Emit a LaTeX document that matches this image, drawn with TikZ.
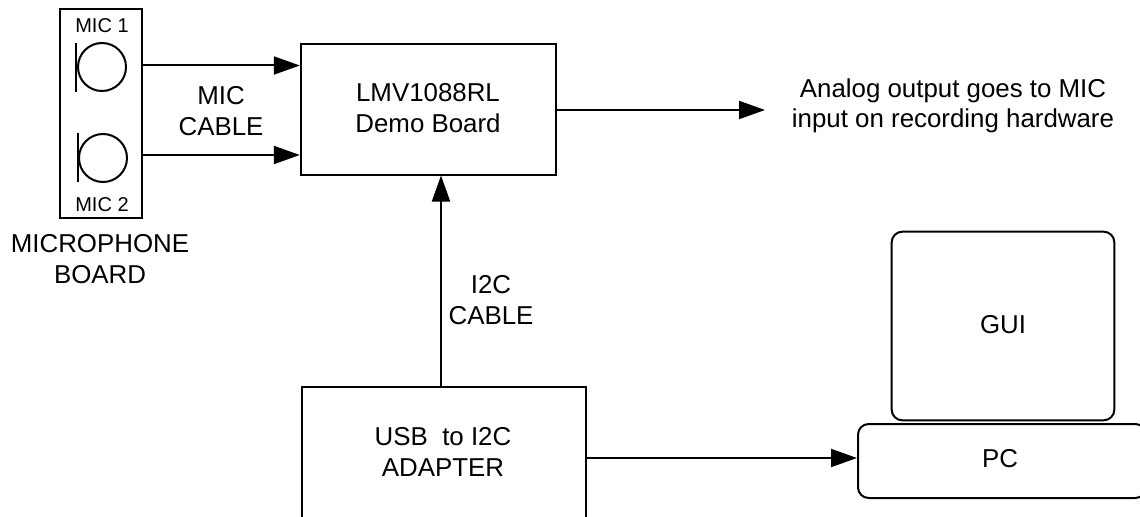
\documentclass[tikz,border=0pt]{standalone}
\usepackage{fontspec}
\setmainfont{Liberation Sans}
\usetikzlibrary{arrows.meta}
\newcommand{\lbl}{\fontsize{19.4pt}{22.8pt}\selectfont}
\newcommand{\smalllbl}{\fontsize{15pt}{17pt}\selectfont}
\tikzset{
  every picture/.style={x=0.75pt,y=-0.75pt},
  box/.style={draw=black,line width=1.5pt,inner sep=0pt,minimum width=#1},
  boxh/.style={minimum height=#1},
  rbox/.style={rounded corners=8pt},
  txt/.style={align=center,inner sep=0pt,font=\lbl},
  small/.style={align=center,inner sep=0pt,font=\smalllbl},
  link/.style={draw=black,line width=1.5pt,-{Triangle[length=19.5pt,width=13.5pt]},shorten >=0pt},
  micline/.style={draw=black,line width=1.5pt}
}
\begin{document}
\begin{tikzpicture}
\useasboundingbox (0,0) rectangle (1140,517);
\clip (0,0) rectangle (1140,517);
\fill[white] (0,0) rectangle (1140,517);
% boxes
\node[box=61.5pt,boxh=156pt] (board) at (101,113.5) {};
\node[box=191.5pt,boxh=97.5pt] (demo) at (428.5,109.5) {};
\node[box=213pt,boxh=113pt] (adapter) at (443.5,462) {};
\node[box=167pt,boxh=141.5pt,rbox] (gui) at (1003,326) {};
\node[box=216pt,boxh=55.5pt,rbox] (pc) at (1002,461) {};
% box labels
\node[txt] (demot) at (428,108) {LMV1088RL\\Demo Board};
\node[txt] (adaptert) at (443,452) {USB\ \ to I2C\\ADAPTER};
\node[txt] (guit) at (1003,325) {GUI};
\node[txt] (pct) at (1000,459) {PC};
\node[small] (m1t) at (102,26) {MIC 1};
\node[small] (m2t) at (102,205) {MIC 2};
\node[txt] (micboard) at (100,259) {MICROPHONE\\BOARD};
\node[txt] (miccable) at (221,111) {MIC\\CABLE};
\node[txt] (i2c) at (491,300) {I2C\\CABLE};
\node[txt] (out) at (953,106) {Analog output goes to MIC\\input on recording hardware};
% microphones
\node[draw=black,line width=1.5pt,circle,minimum size=36pt,inner sep=0pt] (c1) at (102,67) {};
\node[draw=black,line width=1.5pt,circle,minimum size=36pt,inner sep=0pt] (c2) at (103,158) {};
\coordinate (b1a) at (76,43); \coordinate (b1b) at (76,92);
\coordinate (b2a) at (78,133); \coordinate (b2b) at (78,182);
\draw[micline] (b1a) -- (b1b);
\draw[micline] (b2a) -- (b2b);
% connectors
\coordinate (m1r) at (board.east |- 0,65.5);
\coordinate (m2r) at (board.east |- 0,155);
\draw[link] (m1r) -- (demo.west |- m1r);
\draw[link] (m2r) -- (demo.west |- m2r);
\coordinate (outend) at (765,110);
\draw[link] (demo.east |- outend) -- (outend);
\coordinate (i2cx) at (441,0);
\draw[link] (adapter.north -| i2cx) -- (demo.south -| i2cx);
\coordinate (pcy) at (0,458);
\draw[link] (adapter.east |- pcy) -- (pc.west |- pcy);
\end{tikzpicture}
\end{document}
